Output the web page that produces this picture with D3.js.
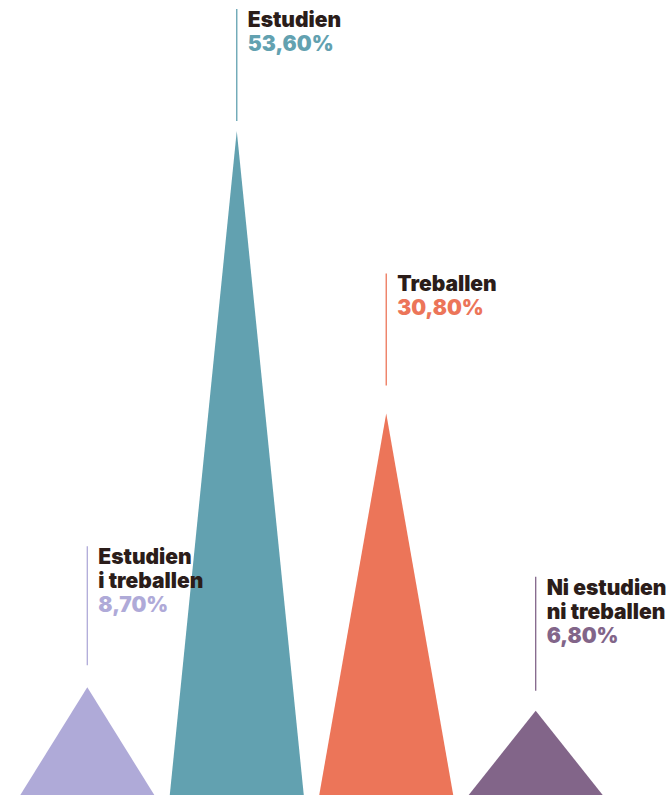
<!DOCTYPE html>
<html><head><meta charset="utf-8">
<script src="https://cdn.jsdelivr.net/npm/d3@7"></script>
<style>
html,body{margin:0;padding:0;background:#fff;}
svg{display:block;}
</style></head>
<body><svg id="c" width="670" height="796"></svg>
<script>
// Data
const categories = ["Estudien i treballen", "Estudien", "Treballen", "Ni estudien ni treballen"];
const labelLines = [["Estudien", "i treballen"], ["Estudien"], ["Treballen"], ["Ni estudien", "ni treballen"]];
const values = [8.7, 53.6, 30.8, 6.8];
const valueLabels = ["8,70%", "53,60%", "30,80%", "6,80%"];

// Styles / layout
const colors = ["#afaad8", "#62a1b0", "#ec7559", "#826589"];
const textColor = "#2b1d1a";
const lineGap = [22, 10, 28, 20];      // gap between leader line end and apex
const lineLen = [119, 112, 112, 114];  // leader line lengths

const svg = d3.select("#c");

const x = d3.scaleBand().domain(categories).range([20.3, 602.7]).paddingInner(0.1035).paddingOuter(0);
const y = d3.scaleLinear().domain([0, 53.6]).range([795, 131]);

const marks = svg.append("g");
const labels = svg.append("g");
categories.forEach((c, i) => {
  const x0 = x(c), x1 = x(c) + x.bandwidth(), cx = x(c) + x.bandwidth() / 2;
  const apex = y(values[i]);
  marks.append("path")
    .attr("d", `M${x0},${y(0)}L${cx},${apex}L${x1},${y(0)}Z`)
    .attr("fill", colors[i]);
  const lb = apex - lineGap[i];
  const lt = lb - lineLen[i];
  labels.append("line")
    .attr("x1", cx).attr("x2", cx).attr("y1", lt).attr("y2", lb)
    .attr("stroke", colors[i]).attr("stroke-width", 1.3);
  const t = labels.append("text")
    .attr("x", cx + 11)
    .attr("y", lt + 18)
    .attr("font-family", "Inter, 'Open Sans', sans-serif")
    .attr("font-weight", 900)
    .attr("font-size", 21);
  labelLines[i].forEach((ln, k) => {
    t.append("tspan").attr("x", cx + 11).attr("dy", k === 0 ? 0 : 24).attr("fill", textColor).text(ln);
  });
  t.append("tspan").attr("x", cx + 11).attr("dy", 24).attr("fill", colors[i]).text(valueLabels[i]);
});
</script>
</body></html>
